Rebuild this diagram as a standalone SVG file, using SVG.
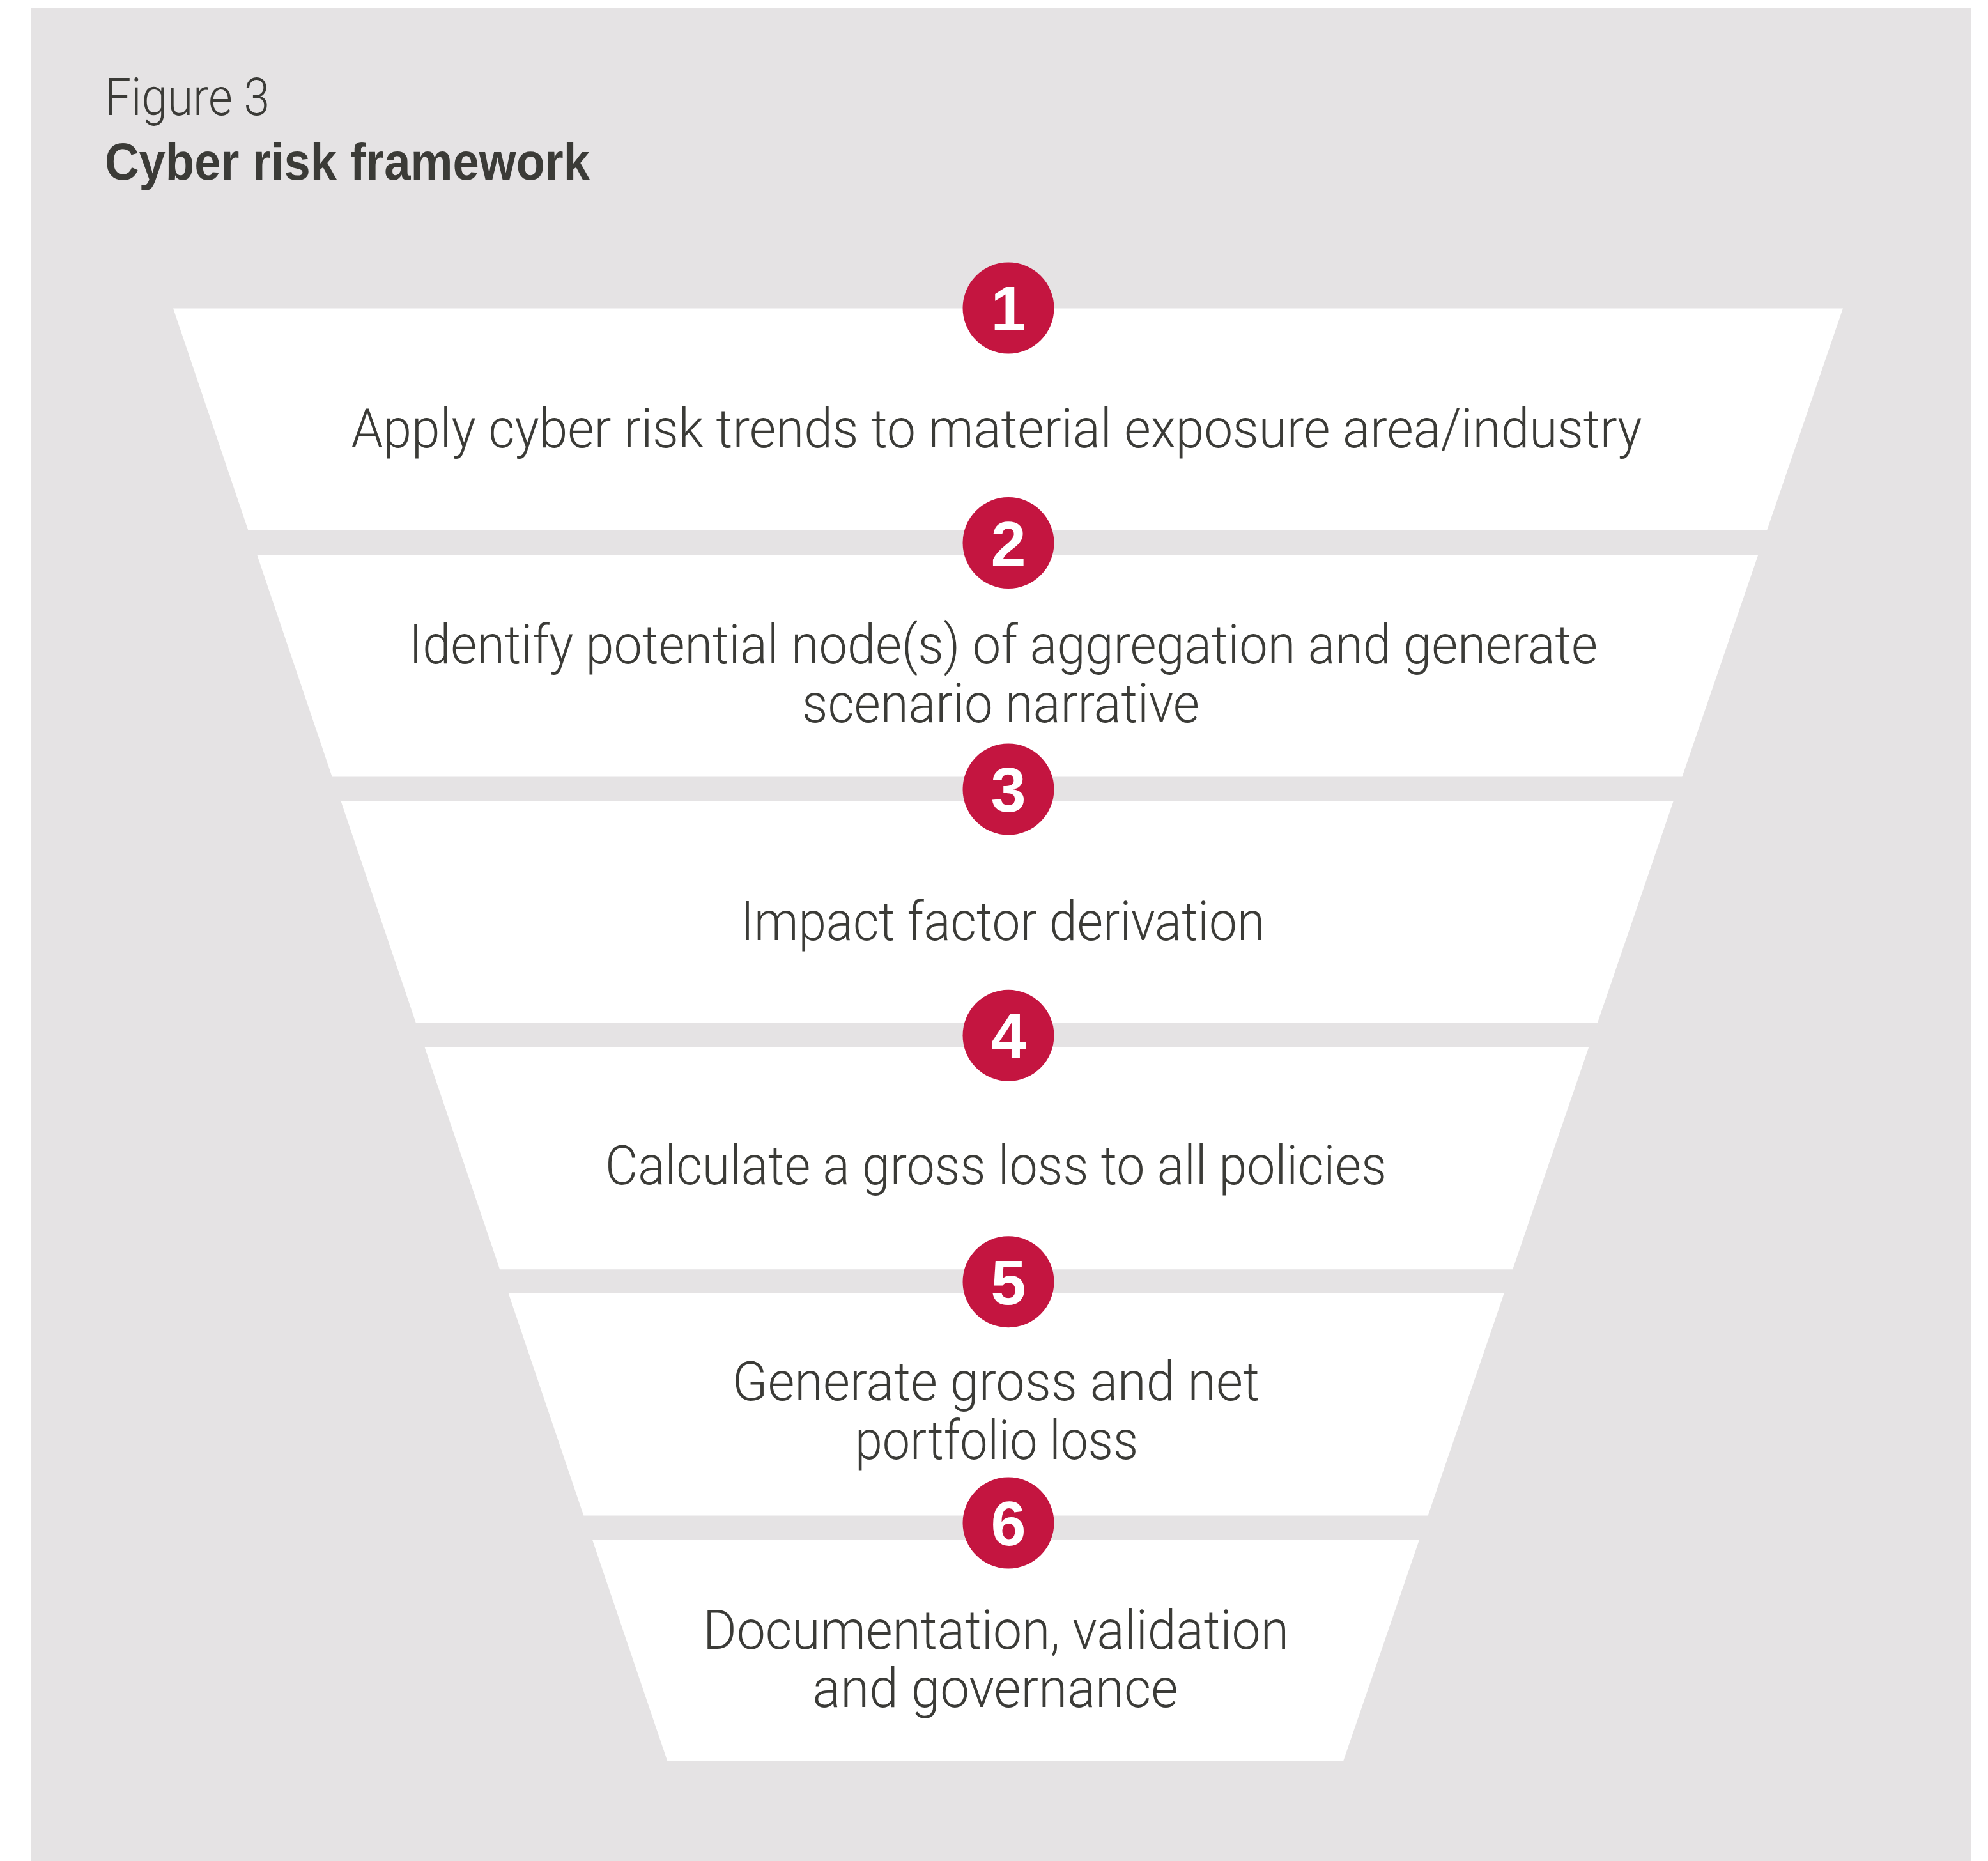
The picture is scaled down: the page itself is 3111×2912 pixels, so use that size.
<svg xmlns="http://www.w3.org/2000/svg" width="3111" height="2912" viewBox="0 0 3111 2912">
  <style>
    .panel { fill: #e5e3e4; }
    .stage { fill: #ffffff; }
    .badge { fill: #c41540; }
    .num { font-family: "Liberation Sans", Arial, sans-serif; font-weight: 700; font-size: 99px; fill: #ffffff; text-anchor: middle; }
    .label { font-family: Roboto, "Liberation Sans", Arial, sans-serif; font-weight: 300; font-size: 86px; fill: #3b3b37; }
    .fig { font-family: Roboto, "Liberation Sans", Arial, sans-serif; font-weight: 300; font-size: 81px; fill: #3b3b37; }
    .title { font-family: "Liberation Sans", Arial, sans-serif; font-weight: 700; font-size: 81px; fill: #3b3b37; }
  </style>

  <!-- backdrop panel -->
  <rect class="panel" x="48" y="12" width="3036" height="2900"/>

  <!-- heading -->
  <g id="heading">
    <text class="fig" x="164" y="180" textLength="258" lengthAdjust="spacingAndGlyphs">Figure 3</text>
    <text class="title" x="164" y="281" textLength="759" lengthAdjust="spacingAndGlyphs">Cyber risk framework</text>
  </g>

  <!-- funnel stages, widest at the top -->
  <g id="stage-1">
    <polygon class="stage" points="271,482.5 2884,482.5 2765,830 388.5,830"/>
    <text class="label" x="549.5" y="700" textLength="2020" lengthAdjust="spacingAndGlyphs">Apply cyber risk trends to material exposure area/industry</text>
  </g>
  <g id="stage-2">
    <polygon class="stage" points="402.2,868 2751.4,868 2632.4,1215.5 519.7,1215.5"/>
    <text class="label" x="640" y="1038" textLength="1860" lengthAdjust="spacingAndGlyphs">Identify potential node(s) of aggregation and generate</text>
    <text class="label" x="1255" y="1130" textLength="622" lengthAdjust="spacingAndGlyphs">scenario narrative</text>
  </g>
  <g id="stage-3">
    <polygon class="stage" points="533.4,1253.3 2618.8,1253.3 2499.8,1600.8 650.9,1600.8"/>
    <text class="label" x="1159" y="1471" textLength="820" lengthAdjust="spacingAndGlyphs">Impact factor derivation</text>
  </g>
  <g id="stage-4">
    <polygon class="stage" points="664.6,1638.7 2486.2,1638.7 2367.2,1986.2 782.1,1986.2"/>
    <text class="label" x="947" y="1853" textLength="1223" lengthAdjust="spacingAndGlyphs">Calculate a gross loss to all policies</text>
  </g>
  <g id="stage-5">
    <polygon class="stage" points="795.8,2024.1 2353.6,2024.1 2234.6,2371.6 913.3,2371.6"/>
    <text class="label" x="1146" y="2191" textLength="825" lengthAdjust="spacingAndGlyphs">Generate gross and net</text>
    <text class="label" x="1338" y="2283" textLength="443" lengthAdjust="spacingAndGlyphs">portfolio loss</text>
  </g>
  <g id="stage-6">
    <polygon class="stage" points="927,2409.5 2221,2409.5 2102,2756 1044.5,2756"/>
    <text class="label" x="1100" y="2580" textLength="917" lengthAdjust="spacingAndGlyphs">Documentation, validation</text>
    <text class="label" x="1271.5" y="2671" textLength="572" lengthAdjust="spacingAndGlyphs">and governance</text>
  </g>

  <!-- numbered step badges -->
  <g id="badge-1">
    <circle class="badge" cx="1578" cy="482" r="71.5"/>
    <text class="num" x="1578" y="517">1</text>
  </g>
  <g id="badge-2">
    <circle class="badge" cx="1578" cy="849.5" r="71.5"/>
    <text class="num" x="1578" y="884.5">2</text>
  </g>
  <g id="badge-3">
    <circle class="badge" cx="1578" cy="1235" r="71.5"/>
    <text class="num" x="1578" y="1270">3</text>
  </g>
  <g id="badge-4">
    <circle class="badge" cx="1578" cy="1620.3" r="71.5"/>
    <text class="num" x="1578" y="1655.3">4</text>
  </g>
  <g id="badge-5">
    <circle class="badge" cx="1578" cy="2005.7" r="71.5"/>
    <text class="num" x="1578" y="2040.7">5</text>
  </g>
  <g id="badge-6">
    <circle class="badge" cx="1578" cy="2383" r="71.5"/>
    <text class="num" x="1578" y="2418">6</text>
  </g>

  <g id="connectors"/>
</svg>
